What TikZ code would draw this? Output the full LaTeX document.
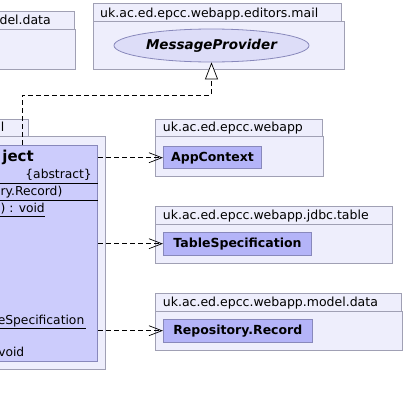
\documentclass[tikz,border=0pt]{standalone}
\usepackage{fontspec}
\setmainfont{DejaVu Sans}
\usetikzlibrary{arrows.meta,shapes.geometric}
\definecolor{pkgfill}{HTML}{EEEEFC}
\definecolor{pkgline}{HTML}{A0A0B4}
\definecolor{clsfill}{HTML}{CCCCFC}
\definecolor{refill}{HTML}{B4B4F8}
\definecolor{refline}{HTML}{8888BB}
\definecolor{elfill}{HTML}{DDDDF8}
\tikzset{
  pkg/.style={draw=pkgline, fill=pkgfill, line width=0.8pt},
  pkgtext/.style={anchor=base west, inner sep=0pt, font=\fontsize{12.5}{14}\selectfont},
  refcls/.style={draw=refline, fill=refill, line width=0.8pt, inner sep=0pt, font=\fontsize{12.5}{14}\selectfont\bfseries},
  dep/.style={dash pattern=on 5pt off 3pt, line width=0.7pt, -{Straight Barb[length=13pt,width=10pt,line width=0.7pt]}},
  gen/.style={dash pattern=on 5pt off 3pt, line width=0.7pt, -{Triangle[open, fill=white, length=17pt, width=13pt, line width=0.7pt]}},
  ctext/.style={inner sep=0pt, font=\fontsize{12.3}{14}\selectfont},
}
\begin{document}
\begin{tikzpicture}[x=1pt,y=-1pt]
\clip (0,0) rectangle (405,407);
\fill[white] (0,0) rectangle (405,407);
% top-left package (cut off)
\draw[pkg] (-150,11) rectangle (74,29);
\draw[pkg] (-150,29) rectangle (75.5,69);
\node[pkgtext, anchor=base east] (tlname) at (51,24.5) {del.data};
% mail package
\draw[pkg] (93,3) rectangle (341,21);
\draw[pkg] (93,21) rectangle (344,69);
\node[pkgtext] (mailname) at (100,17) {uk.ac.ed.epcc.webapp.editors.mail};
\node[draw=refline, fill=elfill, line width=0.8pt, ellipse, minimum width=195pt, minimum height=33pt, inner sep=0pt, font=\fontsize{13.5}{15}\selectfont\bfseries\itshape] (mp) at (211.5,45.5) {MessageProvider};
% left package (cut off)
\draw[pkg] (-150,119) rectangle (28.7,136.7);
\draw[pkg] (-150,136.7) rectangle (105,369);
\node[pkgtext, anchor=base east] (lname) at (4.5,131.5) {il};
\node[draw=refline, fill=clsfill, line width=0.8pt, minimum width=247.7pt, minimum height=216pt, inner sep=0pt] (obj) at (-26.15,253) {};
\node[ctext, anchor=east, font=\fontsize{15}{17}\selectfont\bfseries] (objname) at (34,157) {ject};
\node[ctext, anchor=east] (abs) at (92,175) {\{abstract\}};
\draw[line width=0.8pt] (obj.west |- 0,183.3) -- (obj.east |- 0,183.3);
\node[ctext, anchor=east] (attr) at (62.5,192) {ry.Record)};
\draw[line width=0.8pt] (obj.west |- 0,200) -- (obj.east |- 0,200);
\node[ctext, anchor=east] (op1) at (45,209) {g) : void};
\draw[line width=0.7pt] (obj.west |- 0,216) -- (45,216);
\node[ctext, anchor=east] (op2) at (84.5,321) {eSpecification};
\draw[line width=0.7pt] (obj.west |- 0,328.3) -- (86,328.3);
\node[ctext, anchor=east] (op3) at (24.5,352) {void};
% webapp package
\draw[pkg] (155.3,119.3) rectangle (322.7,136.7);
\draw[pkg] (155.3,136.7) rectangle (323.7,176);
\node[pkgtext] (wname) at (162.7,131.5) {uk.ac.ed.epcc.webapp};
\node[refcls, minimum width=98.4pt, minimum height=22pt] (app) at (212.5,157.7) {AppContext};
% jdbc.table package
\draw[pkg] (155.3,206) rectangle (392.3,224);
\draw[pkg] (155.3,224) rectangle (392.3,263.3);
\node[pkgtext] (jname) at (162.7,219.5) {uk.ac.ed.epcc.webapp.jdbc.table};
\node[refcls, minimum width=148.4pt, minimum height=22.7pt] (ts) at (237.5,243.7) {TableSpecification};
% model.data package
\draw[pkg] (155.3,293.3) rectangle (401.7,311);
\draw[pkg] (155.3,311) rectangle (402.3,350);
\node[pkgtext] (dname) at (162.7,306.5) {uk.ac.ed.epcc.webapp.model.data};
\node[refcls, minimum width=149pt, minimum height=23.3pt] (rr) at (237.8,330.7) {Repository.Record};
% connectors
\coordinate (g1) at (22,95);
\draw[gen] (obj.north -| g1) -- (g1) -- (g1 -| mp.south) -- (mp.south);
\draw[dep] (obj.east |- app.west) -- (app.west);
\draw[dep] (obj.east |- ts.west) -- (ts.west);
\draw[dep] (obj.east |- rr.west) -- (rr.west);
\end{tikzpicture}
\end{document}
